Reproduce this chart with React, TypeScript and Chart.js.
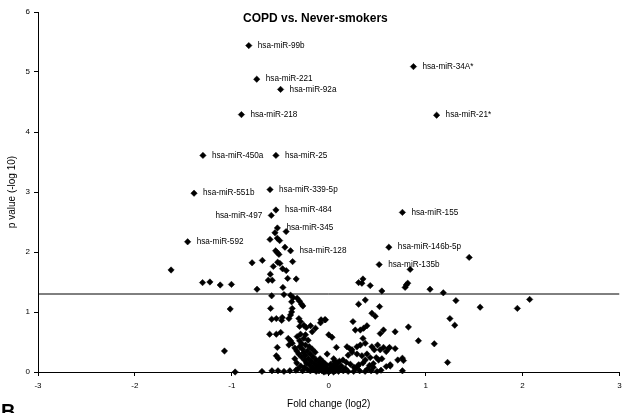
import React, { useEffect, useRef } from 'react';
import { Chart, registerables } from 'chart.js';

Chart.register(...registerables);

const chartTitle = 'COPD vs. Never-smokers';
const xTitle = 'Fold change (log2)';
const yTitle = 'p value (-log 10)';
const panelLetter = 'B';

const xRange = [-3, 3];
const yRange = [0, 6];
const thresholdY = 1.3;

const labelNames = [
  'hsa-miR-99b', 'hsa-miR-34A*', 'hsa-miR-221', 'hsa-miR-92a', 'hsa-miR-218', 'hsa-miR-21*',
  'hsa-miR-450a', 'hsa-miR-25', 'hsa-miR-551b', 'hsa-miR-339-5p', 'hsa-miR-484', 'hsa-miR-497',
  'hsa-miR-345', 'hsa-miR-592', 'hsa-miR-128', 'hsa-miR-155', 'hsa-miR-146b-5p', 'hsa-miR-135b',
];
const labelFC = [
  -0.825, 0.874, -0.743, -0.497, -0.901, 1.113,
  -1.298, -0.545, -1.39, -0.606, -0.545, -0.593,
  -0.53, -1.456, -0.394, 0.76, 0.62, 0.52,
];
const labelP = [
  5.44, 5.09, 4.88, 4.71, 4.29, 4.28,
  3.61, 3.61, 2.98, 3.04, 2.70, 2.61,
  2.40, 2.17, 2.02, 2.66, 2.08, 1.79,
];
const labelLeft = [
  false, false, false, false, false, false,
  false, false, false, false, false, true,
  false, false, false, false, false, false,
];

const foldChange = [
  // left outliers
  -1.627, -1.302, -1.226, -1.12, -1.004, -1.017, -1.076, -0.966, -0.74,
  // left cluster above threshold
  -0.791, -0.685, -0.606, -0.555, -0.44, -0.531, -0.507, -0.548, -0.531, -0.514, -0.452,
  -0.603, -0.572, -0.527, -0.504, -0.373, -0.476, -0.439, -0.424, -0.336, -0.624, -0.583, -0.473,
  // left cluster below threshold
  -0.589, -0.462, -0.394, -0.367, -0.326, -0.301, -0.281, -0.267, -0.383, -0.6, -0.377, -0.383,
  -0.394, -0.411, -0.589, -0.541, -0.486, -0.48, -0.308, -0.291, -0.301, -0.257, -0.233, -0.188,
  -0.171, -0.137, -0.61, -0.541, -0.496, -0.418, -0.394, -0.377, -0.411, -0.326, -0.291, -0.257,
  -0.24, -0.213, -0.531, -0.541, -0.521, -0.085, -0.041,
  // bottom row left
  -0.689, -0.586, -0.524, -0.462, -0.401, -0.339,
  // dense centre
  -0.35, -0.33, -0.31, -0.30, -0.28, -0.27, -0.26, -0.25, -0.24, -0.23, -0.22, -0.21, -0.2, -0.19,
  -0.18, -0.17, -0.16, -0.15, -0.14, -0.13, -0.12, -0.11, -0.10, -0.09, -0.08, -0.07, -0.06, -0.05,
  -0.04, -0.03, -0.02, -0.01, 0.0, 0.01, 0.02, 0.03, 0.04, 0.05, 0.06, 0.07, 0.08, 0.09, 0.10, 0.11,
  0.12, -0.32, -0.29, -0.27, -0.25, -0.22, -0.19, -0.16, -0.13, -0.10, -0.05, 0.0, 0.05, 0.1, 0.15,
  0.2, -0.30, -0.28, -0.24, -0.2, -0.17, -0.14, -0.35, -0.33, -0.09, -0.06, -0.02, 0.02, 0.06,
  // right cluster above threshold
  0.308, 0.353, 0.428, 0.548, 0.788, 0.80, 0.815, 0.84, 1.045, 1.182, 1.449, 0.342,
  // right cluster below threshold
  0.308, 0.377, 0.524, 0.445, 0.48, 0.25, -0.079, -0.034, 0.0, 0.034, 0.274, 0.326, 0.36, 0.394,
  0.565, 0.531, 0.353, 0.377, 0.326, 0.291, 0.079, 0.188, 0.216, 0.24, 0.445, 0.47, 0.504, 0.531,
  0.565, 0.593, 0.627, -0.017, 0.291, 0.342, 0.394, 0.428, 0.377, 0.353, 0.49, 0.514, 0.548, 0.147,
  0.182, 0.223, 0.051, 0.085, 0.593, 0.634, 0.13, 0.17, 0.26, 0.31, 0.42, 0.46, 0.2, 0.24,
  // far right
  1.312, 1.562, 1.946, 2.073, 1.25, 1.30, 0.822, 0.685, 0.925, 1.089, 0.685, 0.617, 0.76, 0.771,
  0.712, 1.226, 0.634, 0.76,
  // bottom row right
  0.257, 0.319, 0.375, 0.437, 0.498, 0.539, 0.28, 0.4, 0.46, 0.3,
];
const pValue = [
  1.70, 1.49, 1.50, 1.45, 1.46, 1.05, 0.35, 0.0, 1.38,
  1.82, 1.86, 2.21, 2.32, 2.34, 2.23, 2.19, 2.02, 1.99, 1.96, 2.08,
  1.63, 1.76, 1.83, 1.81, 1.84, 1.72, 1.69, 1.56, 1.55, 1.53, 1.53, 1.41,
  1.27, 1.29, 1.28, 1.24, 1.23, 1.18, 1.13, 1.10, 1.17, 1.06, 1.06, 1.0,
  0.95, 0.89, 0.88, 0.89, 0.86, 0.91, 0.89, 0.84, 0.76, 0.78, 0.74, 0.77,
  0.67, 0.73, 0.63, 0.63, 0.66, 0.56, 0.52, 0.48, 0.45, 0.59, 0.63, 0.56,
  0.62, 0.53, 0.41, 0.27, 0.23, 0.82, 0.87,
  0.01, 0.02, 0.02, 0.01, 0.02, 0.03,
  0.40, 0.35, 0.30, 0.42, 0.25, 0.38, 0.32, 0.20, 0.28, 0.15, 0.35, 0.22, 0.12, 0.30,
  0.18, 0.08, 0.25, 0.14, 0.05, 0.20, 0.10, 0.03, 0.16, 0.07, 0.12, 0.02, 0.09, 0.04,
  0.14, 0.01, 0.06, 0.03, 0.01, 0.05, 0.02, 0.08, 0.03, 0.12, 0.05, 0.02, 0.09, 0.14, 0.04, 0.18,
  0.08, 0.05, 0.10, 0.02, 0.08, 0.04, 0.02, 0.04, 0.01, 0.02, 0.0, 0.0, 0.0, 0.01, 0.02,
  0.01, 0.52, 0.47, 0.45, 0.42, 0.38, 0.33, 0.22, 0.15, 0.22, 0.17, 0.11, 0.13, 0.18,
  1.49, 1.55, 1.44, 1.35, 1.41, 1.45, 1.48, 1.71, 1.38, 1.32, 1.91, 1.48,
  1.13, 1.20, 1.09, 0.98, 0.93, 0.84, 0.87, 0.87, 0.62, 0.58, 0.70, 0.70, 0.73, 0.77,
  0.70, 0.64, 0.56, 0.48, 0.45, 0.42, 0.41, 0.42, 0.39, 0.37, 0.42, 0.37, 0.45, 0.37,
  0.41, 0.34, 0.41, 0.30, 0.30, 0.27, 0.30, 0.24, 0.20, 0.15, 0.24, 0.20, 0.22, 0.20,
  0.16, 0.13, 0.22, 0.16, 0.09, 0.12, 0.1, 0.06, 0.08, 0.12, 0.11, 0.14, 0.28, 0.33,
  1.19, 1.08, 1.06, 1.21, 0.89, 0.78, 0.75, 0.67, 0.52, 0.47, 0.39, 0.39, 0.23, 0.19,
  0.20, 0.16, 0.10, 0.02,
  0.01, 0.02, 0.01, 0.02, 0.01, 0.03, 0.06, 0.05, 0.08, 0.10,
];

const FONT = '"Liberation Sans", Arial, sans-serif';

const overlayPlugin = {
  id: 'overlay',
  afterDatasetsDraw(chart: any) {
    const ctx = chart.ctx as CanvasRenderingContext2D;
    const area = chart.chartArea;
    const meta = chart.getDatasetMeta(2);
    ctx.save();
    ctx.fillStyle = '#000';
    ctx.font = `8.2px ${FONT}`;
    ctx.textBaseline = 'middle';
    meta.data.forEach((pt: any, i: number) => {
      if (labelLeft[i]) {
        ctx.textAlign = 'right';
        ctx.fillText(labelNames[i], pt.x - 9, pt.y);
      } else {
        ctx.textAlign = 'left';
        ctx.fillText(labelNames[i], pt.x + 9, pt.y);
      }
    });
    // chart title
    ctx.font = `bold 12px ${FONT}`;
    ctx.textAlign = 'center';
    ctx.fillText(chartTitle, area.left + (area.right - area.left) * 0.477, area.top + 7);
    // axis titles
    ctx.font = `10px ${FONT}`;
    ctx.fillText(xTitle, (area.left + area.right) / 2, 404);
    ctx.save();
    ctx.translate(12, (area.top + area.bottom) / 2);
    ctx.rotate(-Math.PI / 2);
    ctx.fillText(yTitle, 0, 0);
    ctx.restore();
    // panel letter
    ctx.font = `bold 20px ${FONT}`;
    ctx.textAlign = 'left';
    ctx.textBaseline = 'top';
    ctx.fillText(panelLetter, 1, 402);
    ctx.restore();
  },
};

export default function App() {
  const ref = useRef<HTMLCanvasElement>(null);
  useEffect(() => {
    if (!ref.current) return;
    const points = foldChange.map((x, i) => ({ x, y: pValue[i] }));
    const labeled = labelFC.map((x, i) => ({ x, y: labelP[i] }));
    const chart = new Chart(ref.current, {
      type: 'scatter',
      data: {
        datasets: [
          {
            type: 'line',
            data: [
              { x: xRange[0], y: thresholdY },
              { x: xRange[1], y: thresholdY },
            ],
            borderColor: '#000',
            borderWidth: 1,
            pointRadius: 0,
            fill: false,
          } as any,
          {
            data: points,
            pointStyle: 'rectRot',
            pointRadius: 3.2,
            backgroundColor: '#000',
            borderColor: '#000',
            borderWidth: 0.5,
            clip: false,
          } as any,
          {
            data: labeled,
            pointStyle: 'rectRot',
            pointRadius: 3.2,
            backgroundColor: '#000',
            borderColor: '#000',
            borderWidth: 0.5,
            clip: false,
          } as any,
        ],
      },
      options: {
        animation: false,
        responsive: false,
        devicePixelRatio: 1,
        layout: { padding: { top: 12, right: -3, left: 0, bottom: 0 } },
        plugins: { legend: { display: false }, tooltip: { enabled: false }, title: { display: false } },
        scales: {
          x: {
            type: 'linear',
            min: xRange[0],
            max: xRange[1],
            ticks: { stepSize: 1, color: '#000', font: { size: 8, family: FONT }, padding: 5 },
            grid: { drawOnChartArea: false, drawTicks: true, tickLength: 4, color: '#000' },
            border: { display: true, color: '#000', width: 1 },
            afterFit: (s: any) => { s.height = 41; s.paddingRight = 0; s.paddingLeft = 0; },
          },
          y: {
            type: 'linear',
            min: yRange[0],
            max: yRange[1],
            ticks: { stepSize: 1, color: '#000', font: { size: 8, family: FONT }, padding: 4 },
            grid: { drawOnChartArea: false, drawTicks: true, tickLength: 4, color: '#000' },
            border: { display: true, color: '#000', width: 1 },
            afterFit: (s: any) => { s.width = 38; s.paddingTop = 0; s.paddingBottom = 0; },
          },
        },
      },
      plugins: [overlayPlugin],
    });
    return () => chart.destroy();
  }, []);
  return (
    <div style={{ position: 'absolute', left: 0, top: 0, width: 624, height: 413, background: '#fff' }}>
      <canvas ref={ref} width={624} height={413} style={{ display: 'block', width: 624, height: 413 }} />
    </div>
  );
}
